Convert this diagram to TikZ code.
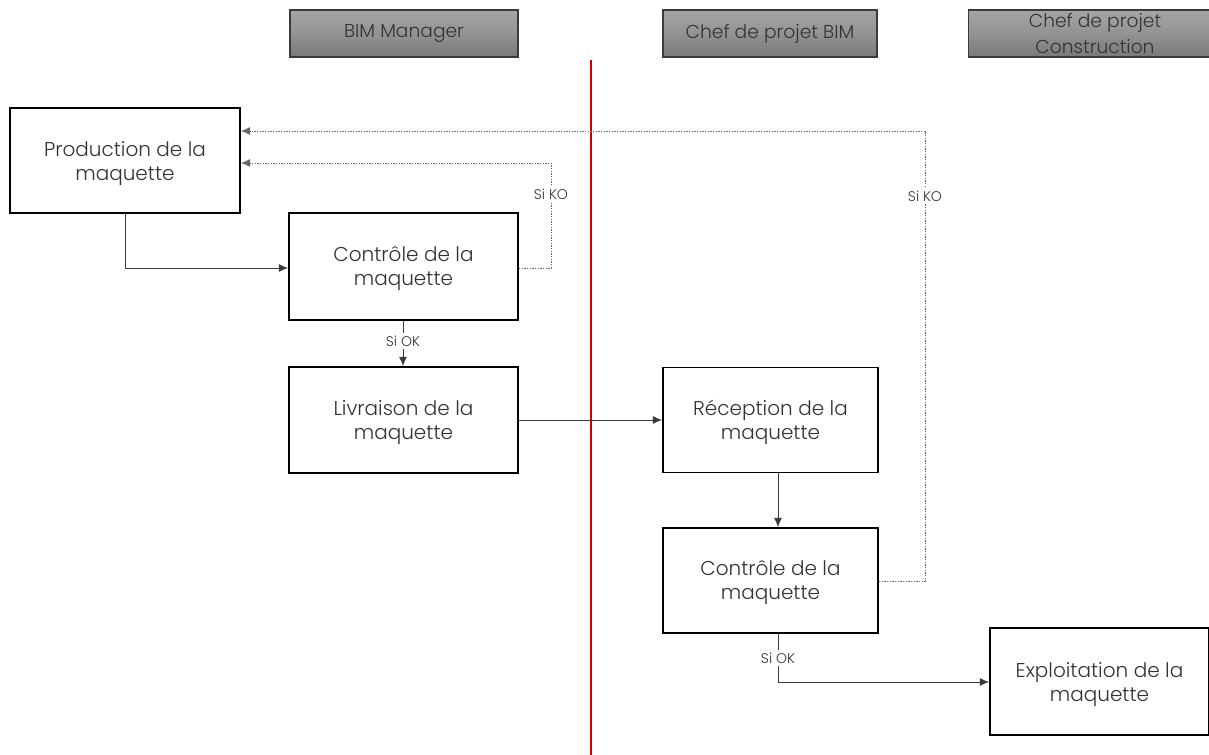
\documentclass[tikz,border=0pt]{standalone}
\usepackage{fontspec}
\setmainfont{Poppins}[UprightFont=* Light]
\usetikzlibrary{arrows.meta,calc}
\definecolor{txt}{HTML}{333333}
\definecolor{ln}{HTML}{3A3A3A}
\tikzset{
  box/.style={draw=black,line width=1.3pt,fill=white,align=center,text=txt,font=\fontsize{15}{18}\selectfont,inner sep=0pt,text depth=0pt},
  head/.style={draw=ln,line width=0.8pt,top color=gray!70,bottom color=gray!95!black,middle color=gray!85,align=center,text=black!80,font=\fontsize{14}{14}\selectfont,minimum height=35.25pt,inner sep=0pt},
  conn/.style={draw=ln,line width=0.6pt,-{Latex[length=7pt,width=6pt]}},
  ko/.style={draw=gray!80!black,line width=0.6pt,dash pattern=on 1.2pt off 0.8pt,-{Latex[length=7pt,width=6pt]}},
  lab/.style={fill=white,text=txt,font=\fontsize{10.5}{11}\selectfont,inner sep=2pt}
}
\begin{document}
\begin{tikzpicture}[x=0.75pt,y=-0.75pt]
\useasboundingbox (0,0) rectangle (1209,755);
% headers
\node[head,minimum width=171pt] (h1) at (404,33.5) {BIM Manager};
\node[head,minimum width=160.5pt] (h2) at (770,33.5) {Chef de projet BIM};
\node[head,minimum width=190pt] (h3) at (1095,33.5) {Chef de projet\\[4pt]Construction};
% red line
\coordinate (rt) at (591,60);
\coordinate (rb) at (591,760);
\draw[red!80!black,line width=1.5pt] (rt) -- (rb);
% boxes
\node[box,minimum width=172.5pt,minimum height=78.75pt] (prod) at (125,160.5) {Production de la\\maquette};
\node[box,minimum width=171.75pt,minimum height=80.25pt] (c1) at (403.5,266.5) {Contrôle de la\\maquette};
\node[box,minimum width=171.75pt,minimum height=79.5pt] (liv) at (403.5,420) {Livraison de la\\maquette};
\node[box,minimum width=161.25pt,minimum height=78.75pt] (rec) at (770.5,420) {Réception de la\\maquette};
\node[box,minimum width=161.25pt,minimum height=78.75pt] (c2) at (770.5,580.5) {Contrôle de la\\maquette};
\node[box,minimum width=164.25pt,minimum height=80.25pt] (exp) at (1099.5,681.5) {Exploitation de la\\maquette};
% helper coordinates
\coordinate (x1) at (403,0);
\coordinate (x2) at (778,0);
\coordinate (k1a) at (551,268);
\coordinate (k1b) at (551,163);
\coordinate (k2a) at (925,581);
\coordinate (k2b) at (925,131);
\coordinate (p1) at (125,268);
\coordinate (ok2) at (778,682);
% connectors
\draw[conn] (prod.south -| p1) -- (p1) -- (c1.west |- p1);
\draw[ko] (c1.east |- k1a) -- (k1a) -- node[lab,pos=0.7]{Si KO} (k1b) -- (prod.east |- k1b);
\draw[conn] (c1.south -| x1) -- node[lab,pos=0.45]{Si OK} (liv.north -| x1);
\draw[conn] (liv.east) -- (rec.west |- liv.east);
\draw[conn] (rec.south -| x2) -- (c2.north -| x2);
\draw[ko] (c2.east |- k2a) -- (k2a) -- node[lab,pos=0.855]{Si KO} (k2b) -- (prod.east |- k2b);
\draw[conn] (c2.south -| x2) -- node[lab,pos=0.5]{Si OK} (ok2) -- (exp.west |- ok2);
\end{tikzpicture}
\end{document}
